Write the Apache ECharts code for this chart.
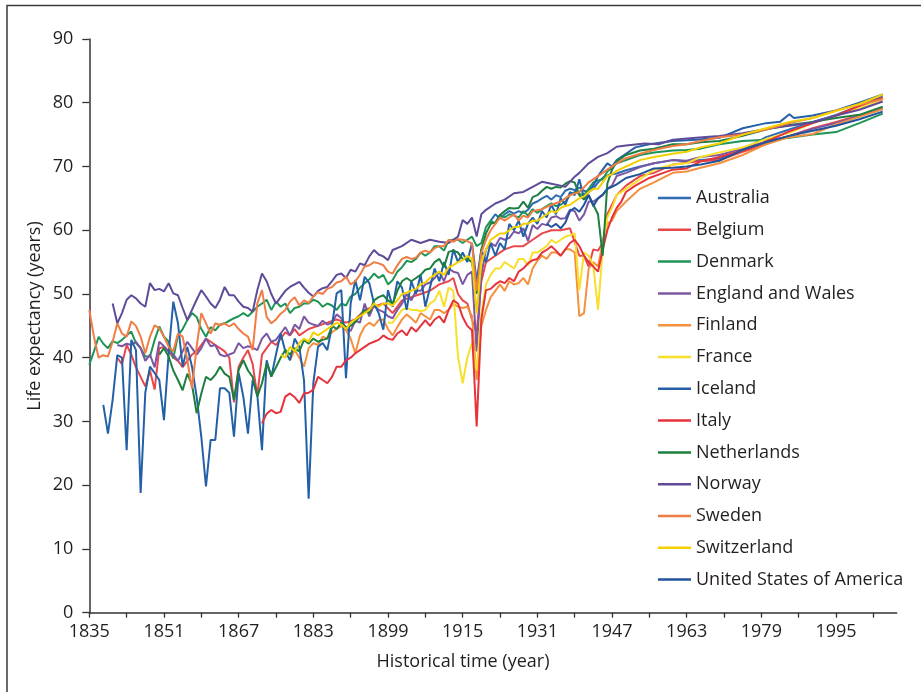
<!DOCTYPE html>
<html><head><meta charset="utf-8">
<script src="https://cdn.jsdelivr.net/npm/echarts@6/dist/echarts.min.js"></script>
<style>html,body{margin:0;padding:0;background:#fff}#c{width:921px;height:692px}</style>
</head><body><div id="c"></div>
<script>
const countries = ["Australia","Belgium","Denmark","England and Wales","Finland","France","Iceland","Italy","Netherlands","Norway","Sweden","Switzerland","United States of America"];
const colors = ["#2e6db4","#e8474b","#1f9457","#7b57a4","#f4903e","#f7df2a","#2460a7","#e5323b","#1d7f3f","#5f4b99","#ef7d45","#f5d000","#20539a"];
const xLabelYears = [1835,1851,1867,1883,1899,1915,1931,1947,1963,1979,1995];
const xTickYears = [1835,1843,1851,1859,1867,1875,1883,1891,1899,1907,1915,1923,1931,1939,1947,1955,1963,1971,1979,1987,1995,2003];

const australia = [[1921,61.5],[1922,62.5],[1923,61.8],[1924,62.5],[1925,63],[1926,62.6],[1927,63],[1928,62.7],[1929,63.2],[1930,64.2],[1931,64.5],[1932,65],[1933,65.4],[1934,64.8],[1935,65.5],[1936,65.2],[1937,66.2],[1938,66.5],[1939,66.3],[1940,66.7],[1941,66.2],[1942,66],[1943,66.5],[1944,67.5],[1945,68.2],[1946,68.6],[1947,68.8],[1948,68.9],[1950,69.4],[1953,70],[1956,70.5],[1960,71],[1963,70.8],[1966,71],[1970,71.2],[1973,72],[1976,73],[1980,74.6],[1985,75.8],[1990,77],[1995,78.1],[2000,79.5],[2005,81]];
const belgium = [[1841,40],[1842,39],[1843,42],[1844,40.5],[1845,38.5],[1846,37],[1847,35.5],[1848,38],[1849,35],[1850,41.5],[1851,41.7],[1852,41],[1853,40],[1854,39.5],[1855,38.5],[1856,39.5],[1857,40.5],[1858,41],[1859,42],[1860,43],[1861,42.5],[1862,42],[1863,41.5],[1864,41],[1865,40],[1866,33],[1867,38.6],[1868,40],[1869,41.2],[1870,39],[1871,34],[1872,40.5],[1873,41.5],[1874,42.5],[1875,42],[1876,43],[1877,44],[1878,43.5],[1879,44.5],[1880,43.5],[1882,44.5],[1884,45],[1886,45.5],[1888,46],[1890,45.5],[1892,46],[1894,47.5],[1896,48],[1898,48.5],[1900,47],[1902,49],[1904,49.5],[1906,50],[1908,50.5],[1910,51.5],[1912,52],[1913,52.5],[1914,50],[1915,49],[1916,48.5],[1917,46],[1918,44],[1919,52],[1920,55],[1922,56],[1924,57],[1926,57.5],[1928,57.5],[1930,58.5],[1932,59.5],[1934,60],[1936,60],[1938,60.3],[1940,56],[1941,56],[1942,54.3],[1943,57],[1944,56.8],[1945,58],[1946,62.5],[1947,64],[1948,65.5],[1950,67],[1953,68.5],[1956,69],[1960,70.3],[1965,70.8],[1970,71],[1975,72.3],[1980,73.5],[1985,74.8],[1990,76],[1995,77],[2000,78],[2005,79.1]];
const denmark = [[1835,38.9],[1836,41],[1837,43.3],[1838,42.2],[1839,41.5],[1840,42.6],[1841,42.3],[1842,42.8],[1843,43.5],[1844,44.1],[1845,42.3],[1846,41.5],[1847,40.2],[1848,40.2],[1849,42.8],[1850,44.9],[1851,43.3],[1852,42.5],[1853,39.9],[1854,43.5],[1855,44.5],[1856,45.9],[1857,47],[1858,46.4],[1859,44.5],[1860,43.3],[1861,44.8],[1862,44.3],[1863,45.2],[1864,45.4],[1865,45.8],[1866,46.2],[1867,46.5],[1868,47],[1869,46.5],[1870,47.2],[1871,48],[1872,48.5],[1873,49.1],[1874,47.5],[1875,48.8],[1876,48],[1877,48.5],[1878,47],[1879,47.8],[1880,48],[1881,48.5],[1882,48.5],[1883,49.1],[1884,48.8],[1885,48],[1886,48.5],[1887,48.2],[1888,47.5],[1889,48.5],[1890,48.2],[1891,49.6],[1892,50],[1893,51],[1894,51.7],[1895,52.3],[1896,53.2],[1897,52.5],[1898,53],[1899,51.5],[1900,52.2],[1901,53.5],[1902,54.2],[1903,55.2],[1904,55],[1905,55.5],[1906,56.5],[1907,56],[1908,56.5],[1909,57.5],[1910,57.5],[1911,56.8],[1912,58.4],[1913,58.5],[1914,58.5],[1915,58],[1916,58.5],[1917,59],[1918,57.5],[1919,58],[1920,60.5],[1921,61.5],[1922,61],[1923,62.4],[1924,62],[1925,62.5],[1926,62.3],[1927,62],[1928,63],[1929,62.3],[1930,63.3],[1931,62.7],[1932,63.3],[1933,63.8],[1934,64.2],[1935,63.8],[1936,64],[1937,64.5],[1938,65.5],[1939,66],[1940,65.7],[1941,65.5],[1942,66.5],[1943,67.5],[1944,67.8],[1945,68],[1946,69.2],[1947,69.8],[1948,70.5],[1950,71],[1953,71.8],[1956,72.2],[1960,72.5],[1963,72.6],[1966,72.8],[1970,73.5],[1975,74],[1980,74.2],[1985,74.5],[1990,75],[1995,75.4],[2000,76.8],[2005,78.3]];
const england = [[1841,42],[1842,41.8],[1843,42.2],[1844,42],[1845,42.5],[1846,41.5],[1847,39.5],[1848,40.5],[1849,38.5],[1850,42.5],[1851,41.8],[1852,41],[1853,40.5],[1854,39.5],[1855,41],[1856,42.5],[1857,41.5],[1858,40.5],[1859,41.5],[1860,43],[1861,41.8],[1862,42],[1863,40.5],[1864,40.2],[1865,40.5],[1866,40.8],[1867,42.3],[1868,41.5],[1869,41.8],[1870,41.6],[1871,41.2],[1872,43],[1873,43.8],[1874,42.5],[1875,42.8],[1876,43.8],[1877,44.8],[1878,43.5],[1879,45.2],[1880,44.5],[1881,46.5],[1882,45.5],[1883,45.2],[1884,45],[1885,45.8],[1886,45.2],[1887,45.5],[1888,46.8],[1889,46.2],[1890,44.5],[1891,44.2],[1892,45.8],[1893,45.5],[1894,48.5],[1895,46.5],[1896,48.2],[1897,47.5],[1898,47.2],[1899,46.5],[1900,46.2],[1901,47.5],[1902,48.5],[1903,50],[1904,49],[1905,50.5],[1906,50.5],[1907,51.5],[1908,51.8],[1909,52.5],[1910,53.5],[1911,52],[1912,54],[1913,53.5],[1914,53.3],[1915,51.5],[1916,53],[1917,53.5],[1918,41],[1919,53],[1920,57],[1921,58],[1922,57.5],[1923,58.8],[1924,58.5],[1925,58.8],[1926,59.8],[1927,59.5],[1928,60.3],[1929,58.3],[1930,60.8],[1931,60.2],[1932,61],[1933,60.8],[1934,62],[1935,62.2],[1936,61.8],[1937,61.9],[1938,63.2],[1939,63],[1940,61.5],[1941,62.5],[1942,64.5],[1943,64.5],[1944,65],[1945,65.5],[1946,66.5],[1947,67],[1948,68.5],[1950,69],[1953,69.9],[1956,70.5],[1960,71],[1963,70.9],[1966,71.5],[1970,71.8],[1975,72.8],[1980,73.9],[1985,74.8],[1990,75.9],[1995,76.8],[2000,77.9],[2005,79]];
const finland = [[1878,39.6],[1879,41.2],[1880,40],[1881,38.6],[1882,41.5],[1883,42.3],[1884,42],[1885,43.3],[1886,43],[1887,44],[1888,44.5],[1889,45],[1890,44.3],[1891,43],[1892,40.7],[1893,43.5],[1894,44.9],[1895,45.5],[1896,45],[1897,45.9],[1898,46],[1899,44.5],[1900,43.5],[1901,44.8],[1902,46],[1903,46.8],[1904,46.2],[1905,45.5],[1906,47],[1907,46.5],[1908,46],[1909,47.5],[1910,47.5],[1911,47],[1912,47.5],[1913,48.5],[1914,48],[1915,47.8],[1916,48],[1917,46.5],[1918,36.5],[1919,45],[1920,47.5],[1921,49.5],[1922,50.5],[1923,51.5],[1924,50.5],[1925,52],[1926,51.5],[1927,51.7],[1928,52.5],[1929,51.5],[1930,54],[1931,55.2],[1932,56],[1933,55.5],[1934,56.5],[1935,56.5],[1936,56],[1937,57],[1938,57],[1939,56.5],[1940,46.5],[1941,47],[1942,54],[1943,55],[1944,54.3],[1945,58],[1946,61],[1947,61.5],[1948,63],[1950,64.5],[1953,66.5],[1956,67.5],[1960,69],[1963,69.2],[1966,69.8],[1970,70.5],[1975,71.8],[1980,73.5],[1985,74.6],[1990,75.1],[1995,76.6],[2000,77.8],[2005,79]];
const france = [[1899,45.5],[1900,45.5],[1901,46.5],[1902,47.5],[1903,47.8],[1904,47.5],[1905,47.5],[1906,47.3],[1907,47.5],[1908,48.5],[1909,49],[1910,50.5],[1911,48],[1912,51],[1913,50.5],[1914,40.2],[1915,36],[1916,40],[1917,42.3],[1918,38],[1919,47],[1920,51.5],[1921,53],[1922,54],[1923,54],[1924,55],[1925,54.5],[1926,54],[1927,55.5],[1928,55.5],[1929,54.5],[1930,56.5],[1931,56.5],[1932,57],[1933,57.5],[1934,58.5],[1935,58],[1936,58.5],[1937,59],[1938,59.2],[1939,59.5],[1940,50.6],[1941,56.5],[1942,56],[1943,54.5],[1944,47.5],[1945,56.9],[1946,62],[1947,63.5],[1948,65.5],[1950,66.5],[1953,68],[1956,69.5],[1960,70.3],[1963,70.5],[1966,71.5],[1970,72.2],[1975,73],[1980,74.3],[1985,75.3],[1990,76.8],[1995,78],[2000,79.2],[2005,80.5]];
const iceland = [[1838,32.6],[1839,28.1],[1840,33.4],[1841,40.4],[1842,40],[1843,25.5],[1844,42.8],[1845,41.2],[1846,18.8],[1847,34.5],[1848,38.6],[1849,37.6],[1850,36.5],[1851,30.2],[1852,40.7],[1853,48.8],[1854,45.4],[1855,38.6],[1856,41.7],[1857,38.6],[1858,33.9],[1859,27.6],[1860,19.8],[1861,27.1],[1862,27.1],[1863,35.2],[1864,35.2],[1865,34.5],[1866,27.6],[1867,37.6],[1868,33.9],[1869,28.1],[1870,36.5],[1871,34.2],[1872,25.5],[1873,39.6],[1874,37],[1875,40.5],[1876,43.8],[1877,41],[1878,39.6],[1879,43],[1880,41.7],[1881,36.5],[1882,17.9],[1883,36],[1884,41.7],[1885,42.3],[1886,41.2],[1887,45],[1888,50.1],[1889,50.6],[1890,36.8],[1891,48.5],[1892,52.2],[1893,49],[1894,52.7],[1895,51.7],[1896,48.5],[1897,47],[1898,44.4],[1899,50.6],[1900,48],[1901,52],[1902,51],[1903,47.5],[1904,52],[1905,50],[1906,53],[1907,48],[1908,51],[1909,54],[1910,52],[1911,55],[1912,53],[1913,57],[1914,55],[1915,56.5],[1916,55],[1917,58],[1918,52],[1919,57],[1920,55],[1921,58],[1922,56],[1923,58],[1924,57],[1925,61],[1926,60],[1927,61.5],[1928,59],[1929,61],[1930,62],[1931,61],[1932,63],[1933,62],[1934,64],[1935,62.5],[1936,65],[1937,64],[1938,66],[1939,65.5],[1940,68],[1941,65],[1942,66],[1943,67],[1944,68.5],[1945,69.5],[1946,70.5],[1947,70],[1948,71],[1950,72],[1952,73],[1955,73.5],[1960,74],[1965,74.2],[1970,74.5],[1975,76],[1980,76.8],[1983,77],[1985,78.2],[1986,77.6],[1990,78],[1995,78.8],[2000,80],[2005,81.3]];
const italy = [[1872,29.7],[1873,31.2],[1874,31.8],[1875,31.3],[1876,31.5],[1877,33.9],[1878,34.4],[1879,33.8],[1880,32.9],[1881,34.4],[1882,34.5],[1883,35],[1884,37],[1885,36.5],[1886,36],[1887,37],[1888,38.6],[1889,38.6],[1890,39.6],[1891,40],[1892,40.7],[1893,41.2],[1894,41.7],[1895,42.2],[1896,42.5],[1897,42.8],[1898,43.5],[1899,43],[1900,42.8],[1901,43.8],[1902,44.3],[1903,43.5],[1904,44.8],[1905,44.1],[1906,45],[1907,45.9],[1908,45],[1909,46],[1910,46.5],[1911,45.5],[1912,47.5],[1913,49],[1914,48.5],[1915,46.4],[1916,45],[1917,44.3],[1918,29.2],[1919,46],[1920,50.6],[1921,50.8],[1922,51.5],[1923,52],[1924,51.7],[1925,52.5],[1926,52],[1927,53.5],[1928,54],[1929,54.8],[1930,55.3],[1931,55.5],[1932,56.5],[1933,56.9],[1934,57.5],[1935,56.8],[1936,56],[1937,57],[1938,58],[1939,58.5],[1940,57.5],[1941,56],[1942,55],[1943,54.3],[1944,53.5],[1945,56.9],[1946,60],[1947,62],[1948,63.5],[1949,64.5],[1950,66],[1952,67],[1955,68.2],[1958,69],[1960,69.5],[1963,69.7],[1966,70.8],[1970,71.5],[1975,72.5],[1980,73.9],[1985,75.5],[1990,76.8],[1995,78],[2000,79.5],[2005,80.8]];
const netherlands = [[1850,40.5],[1851,41.5],[1852,40.2],[1853,38],[1854,36.5],[1855,34.9],[1856,37.5],[1857,35.8],[1858,31.3],[1859,34.4],[1860,37],[1861,36.5],[1862,37.3],[1863,38.6],[1864,37.5],[1865,37],[1866,33.4],[1867,38.1],[1868,39.6],[1869,38],[1870,37],[1871,33.9],[1872,36],[1873,39.1],[1874,37.1],[1875,38.5],[1876,40],[1877,41.2],[1878,40.5],[1879,41.5],[1880,41],[1881,42.8],[1882,42.2],[1883,43],[1884,42.5],[1885,42.8],[1886,43],[1887,45],[1888,44.5],[1889,45.5],[1890,44.8],[1891,45],[1892,45.6],[1893,46.5],[1894,47.5],[1895,47],[1896,49],[1897,49.5],[1898,49.8],[1899,49],[1900,48.5],[1901,50.5],[1902,52],[1903,52.5],[1904,52],[1905,52.5],[1906,53],[1907,53.8],[1908,54],[1909,55],[1910,55.5],[1911,54.2],[1912,56.6],[1913,56.8],[1914,56.5],[1915,55.5],[1916,55.5],[1917,55],[1918,50],[1919,57],[1920,59.5],[1921,61],[1922,61.2],[1923,62.4],[1924,63],[1925,63.5],[1926,63.4],[1927,63.5],[1928,64.5],[1929,63.5],[1930,65.2],[1931,65.5],[1932,66.2],[1933,66.8],[1934,66.5],[1935,66.8],[1936,66.7],[1937,67.3],[1938,67.7],[1939,67.5],[1940,65.5],[1941,64.8],[1942,65.5],[1943,64],[1944,62.5],[1945,56],[1946,67.3],[1947,69.5],[1948,70.8],[1950,71.8],[1953,72.5],[1956,72.8],[1960,73.5],[1963,73.5],[1966,73.8],[1970,74],[1975,74.8],[1980,75.8],[1985,76.5],[1990,77],[1995,77.6],[2000,78.1],[2005,79.4]];
const norway = [[1840,48.5],[1841,45.4],[1842,47],[1843,49.1],[1844,49.8],[1845,49.3],[1846,48.5],[1847,48],[1848,51.7],[1849,50.6],[1850,50.8],[1851,50.4],[1852,51.7],[1853,50.1],[1854,49.8],[1855,47.8],[1856,45.9],[1857,47.5],[1858,49.1],[1859,50.6],[1860,49.6],[1861,48.5],[1862,47.8],[1863,49.1],[1864,51.1],[1865,49.8],[1866,49.8],[1867,48.8],[1868,48],[1869,47.8],[1870,47.2],[1871,50.6],[1872,53.2],[1873,52],[1874,50],[1875,48.5],[1876,49.5],[1877,50.5],[1878,51.1],[1879,51.5],[1880,51.9],[1881,51],[1882,50.2],[1883,49.6],[1884,50.5],[1885,50.9],[1886,51.1],[1887,52],[1888,53],[1889,53.2],[1890,52.5],[1891,53.8],[1892,53.5],[1893,54.8],[1894,54.5],[1895,55.9],[1896,56.9],[1897,56.2],[1898,55.9],[1899,55.3],[1900,56.9],[1902,57.5],[1904,58.5],[1906,58],[1908,58.5],[1910,58.2],[1912,58],[1914,59],[1915,61.6],[1916,61],[1917,62],[1918,59],[1919,62.5],[1920,63.2],[1922,64.2],[1924,64.8],[1926,65.8],[1928,66],[1930,66.8],[1932,67.6],[1934,67.3],[1936,67],[1937,66.8],[1939,68.4],[1940,69],[1942,70.5],[1944,71.5],[1946,72.1],[1948,73.1],[1950,73.3],[1954,73.6],[1957,73.5],[1960,74.2],[1965,74.5],[1970,74.8],[1975,75.2],[1980,75.9],[1985,76.4],[1990,76.9],[1995,78],[2000,78.9],[2005,80.2]];
const sweden = [[1835,47.5],[1836,43.3],[1837,40],[1838,40.4],[1839,40.2],[1840,42.5],[1841,45.4],[1842,43.8],[1843,43.3],[1844,45.7],[1845,45],[1846,43.3],[1847,40.7],[1848,43.3],[1849,45.1],[1850,44.6],[1851,43.3],[1852,41.7],[1853,41],[1854,43.8],[1855,43.3],[1856,39.6],[1857,35.2],[1858,41.7],[1859,47],[1860,45.4],[1861,43.8],[1862,45.4],[1863,45.1],[1864,45.4],[1865,44.9],[1866,45.4],[1867,44.5],[1868,43.8],[1869,43.3],[1870,41.2],[1871,48.5],[1872,50.6],[1873,46.4],[1874,45.4],[1875,46],[1876,46.9],[1877,47.5],[1878,48.8],[1879,49.5],[1880,48.2],[1881,49],[1882,48.6],[1883,49.6],[1884,50.3],[1885,50],[1886,50.8],[1887,51.1],[1888,51.8],[1889,52],[1890,52.7],[1891,51.5],[1892,52],[1893,53],[1894,54.3],[1895,54.5],[1896,55],[1897,54.8],[1898,54.5],[1899,53.5],[1900,53.2],[1901,54.5],[1902,55.5],[1903,55.8],[1904,55.5],[1905,55.7],[1906,56.5],[1907,56.8],[1908,56.5],[1909,57.2],[1910,57.5],[1911,57.5],[1912,58.5],[1913,58.2],[1914,58.6],[1915,58.5],[1916,58.3],[1917,57.9],[1918,50.5],[1919,56.5],[1920,58.5],[1921,60],[1922,61],[1923,62],[1924,61.5],[1925,62],[1926,62.5],[1927,61.5],[1928,62.3],[1929,62],[1930,63],[1932,63.3],[1934,64],[1936,64.5],[1938,65.5],[1940,66],[1942,67.5],[1944,68.5],[1946,69.5],[1948,70.5],[1950,71.3],[1953,72],[1956,72.6],[1960,73.2],[1963,73.5],[1966,74],[1970,74.6],[1975,75],[1980,75.8],[1985,76.8],[1990,77.6],[1995,78.8],[2000,79.7],[2005,80.6]];
const switzerland = [[1876,40.5],[1877,40],[1878,41.7],[1879,41],[1880,42.3],[1881,43],[1882,42.5],[1883,44],[1884,43.5],[1885,44],[1886,44.5],[1887,45],[1888,45.5],[1889,45.2],[1890,44.5],[1891,45.5],[1892,46],[1893,46.5],[1894,47],[1895,47.5],[1896,48.5],[1897,48],[1898,48.5],[1899,48.5],[1900,48.2],[1901,49],[1902,50],[1903,50.2],[1904,50.5],[1905,50.8],[1906,51.5],[1907,51.8],[1908,52.5],[1909,53],[1910,53.5],[1911,53],[1912,54.2],[1913,54.5],[1914,55],[1915,55.3],[1916,56],[1917,55.5],[1918,47],[1919,55],[1920,57],[1921,58.5],[1922,59],[1923,59.5],[1924,59.5],[1925,60],[1926,60.5],[1927,60.5],[1928,61],[1929,61],[1930,61.5],[1931,61.5],[1932,62],[1933,62.5],[1934,63],[1935,62.8],[1936,63.5],[1937,63.8],[1938,64],[1939,64.5],[1940,65],[1941,65.3],[1942,66],[1943,66.5],[1944,66.5],[1945,67.5],[1946,68.5],[1947,68.8],[1948,69.3],[1950,70],[1953,71],[1956,71.5],[1960,72],[1963,72.3],[1966,73],[1970,73.6],[1975,75],[1980,76],[1985,77],[1990,77.6],[1995,78.7],[2000,79.8],[2005,81.3]];
const usa = [[1933,61],[1934,60.5],[1935,61],[1936,60.3],[1937,61.2],[1938,63],[1939,63.5],[1940,62.9],[1941,64],[1942,65.5],[1943,63.8],[1944,65],[1945,65.6],[1946,66.5],[1947,66.8],[1948,67.2],[1950,68.2],[1953,68.8],[1956,69.7],[1960,69.8],[1963,70],[1966,70.3],[1970,70.9],[1975,72.6],[1980,73.8],[1985,74.8],[1990,75.6],[1995,76.4],[2000,77.4],[2005,78.6]];

const seriesData = [australia, belgium, denmark, england, finland, france, iceland, italy, netherlands, norway, sweden, switzerland, usa];

const chart = echarts.init(document.getElementById('c'), null, {renderer:'canvas'});
const font = '"Open Sans", sans-serif';
chart.setOption({
  animation: false,
  backgroundColor: '#fff',
  grid: {left: 89.3, right: 24.3, top: 39, bottom: 79.3, containLabel: false},
  xAxis: {
    type: 'value', min: 1835, max: 2008,
    axisLine: {lineStyle: {color: '#333', width: 1.5}},
    axisTick: {show: true, length: 5, lineStyle: {color: '#333', width: 1.3}, customValues: xTickYears},
    axisLabel: {customValues: xLabelYears, formatter: v => String(v), fontFamily: font, fontSize: 18, color: '#231f20', margin: 10},
    splitLine: {show: false}
  },
  yAxis: {
    type: 'value', min: 0, max: 90, interval: 10,
    axisLine: {show: true, lineStyle: {color: '#333', width: 1.5}},
    axisTick: {show: true, length: 7, lineStyle: {color: '#333', width: 1.3}},
    axisLabel: {fontFamily: font, fontSize: 18, color: '#231f20', margin: 16},
    splitLine: {show: false}
  },
  legend: {
    orient: 'vertical', left: 658, top: 188, padding: 0,
    icon: 'rect', itemWidth: 33, itemHeight: 2.5, itemGap: 11.8,
    textStyle: {fontFamily: font, fontSize: 18, color: '#231f20', lineHeight: 20},
    data: countries
  },
  graphic: [
    {type: 'rect', shape: {x: 7, y: 5.5, width: 940, height: 720}, style: {fill: 'none', stroke: '#3a3a3a', lineWidth: 1.5}, silent: true},
    {type: 'text', x: 35, y: 316, rotation: Math.PI/2, style: {text: 'Life expectancy (years)', font: '18px "Open Sans", sans-serif', fill: '#231f20', textAlign: 'center', textVerticalAlign: 'middle'}},
    {type: 'text', x: 463, y: 662, style: {text: 'Historical time (year)', font: '18px "Open Sans", sans-serif', fill: '#231f20', textAlign: 'center', textVerticalAlign: 'middle'}}
  ],
  series: countries.map((name, i) => ({
    name: name, type: 'line', data: seriesData[i], showSymbol: false, symbol: 'none',
    lineStyle: {width: 2, color: colors[i]}, itemStyle: {color: colors[i]}, z: 2
  }))
});
</script></body></html>
